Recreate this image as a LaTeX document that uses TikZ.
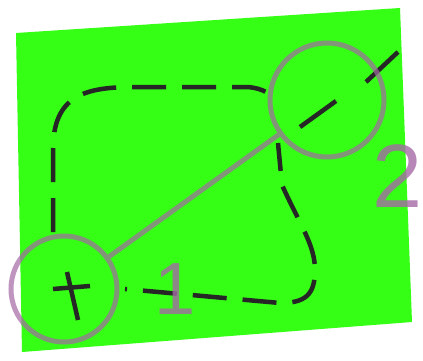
\documentclass[tikz,border=0pt]{standalone}
\usepackage{fontspec}
\setmainfont{Liberation Sans}
\begin{document}
\begin{tikzpicture}[x=1pt,y=-1pt,
  pen/.style={draw=purp,draw opacity=0.7,line width=5pt},
  ring/.style={circle,pen,minimum size=106pt,inner sep=0pt},
  dashpath/.style={draw=black!85,line width=4.5pt,dash pattern=on 34pt off 16pt},
  ink/.style={draw=black!85,line width=4.5pt},
  lab/.style={text=purp,text opacity=0.8,inner sep=0pt}]
\definecolor{purp}{RGB}{165,105,165}
\definecolor{grn}{RGB}{52,255,20}
\useasboundingbox (0,0) rectangle (423,361);
\fill[white] (0,0) rectangle (423,361);
\fill[grn] (16,33) -- (400,8) -- (412,322) -- (22,352) -- cycle;
% dashed path
\draw[dashpath] (53,232) -- (53,150) .. controls (53,95) and (85,87) .. (135,87) -- (245,87) .. controls (258,87) and (268,92) .. (275,98);
\draw[dashpath,dash phase=6pt] (278,143) -- (282,185) .. controls (300,225) and (315,245) .. (315,270) .. controls (315,295) and (305,303) .. (280,303) -- (125,289);
% marks
\draw[ink] (300,127) -- (336,101);
\draw[ink] (366,82) -- (398,52);
\draw[ink] (53,289) -- (90,286);
\draw[ink] (67,272) -- (78,320);
% circles
\node[ring] (c1) at (64,289) {};
\node[ring,minimum size=114pt] (c2) at (327,100) {};
\draw[pen] (c1) -- (c2);
\node[lab,font=\fontsize{74}{74}\selectfont] (l1) at (175,289) {1};
\node[lab,font=\fontsize{90}{90}\selectfont] (l2) at (398,176) {2};
\end{tikzpicture}
\end{document}
